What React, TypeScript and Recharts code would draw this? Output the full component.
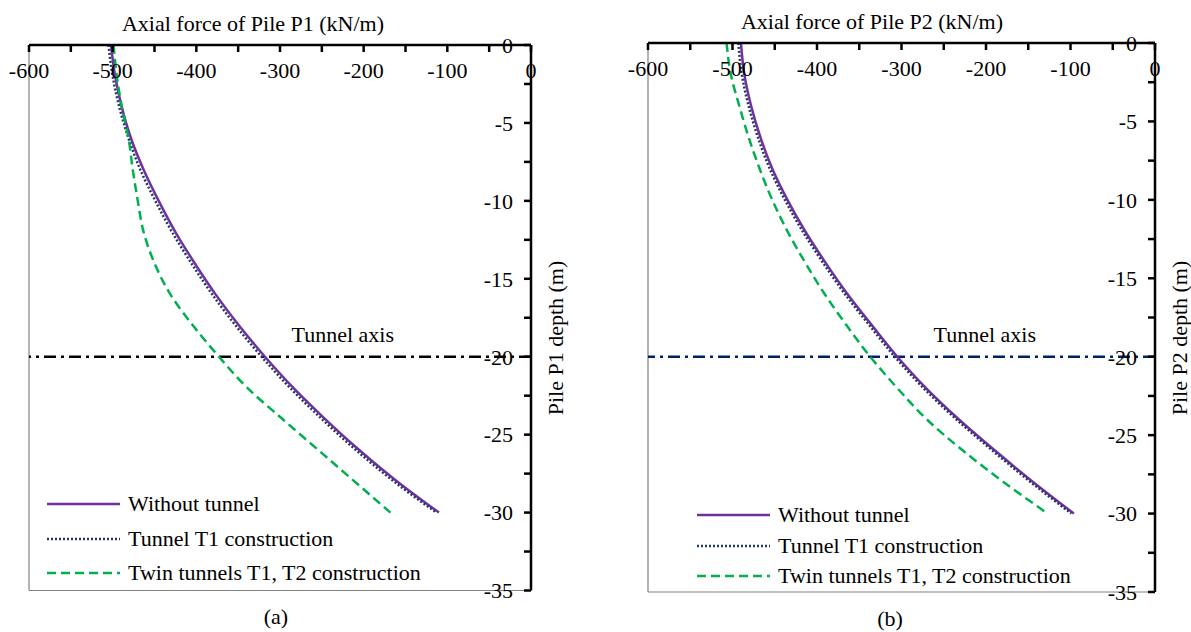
import { LineChart, Line, XAxis, YAxis, ReferenceLine } from 'recharts';

const FONT = '"Liberation Serif", "Times New Roman", serif';

// depth along the pile (m)
const depth = [0, -2, -4, -6, -8, -10, -12, -14, -16, -18, -20, -22, -24, -26, -28, -30];

// Pile P1 axial force (kN/m)
const p1WithoutTunnel = [-502, -497, -489, -478, -463, -445, -425, -402, -377, -349, -318, -284, -246, -205, -160, -110];
const p1TunnelT1 = [-505, -500, -492, -481, -467, -449, -429, -406, -381, -353, -322, -288, -250, -209, -164, -113];
const p1TwinTunnels = [-499, -495, -489, -481, -476, -470, -463, -450, -431, -404, -373, -339, -297, -254, -211, -168];

// Pile P2 axial force (kN/m)
const p2WithoutTunnel = [-490, -486, -478, -467, -453, -435, -414, -390, -364, -335, -305, -271, -232, -189, -144, -96];
const p2TunnelT1 = [-493, -489, -481, -470, -456, -438, -417, -393, -367, -338, -308, -274, -235, -192, -147, -99];
const p2TwinTunnels = [-507, -502, -492, -481, -468, -453, -435, -414, -391, -365, -337, -305, -270, -227, -179, -127];

const forceTicks = [-600, -550, -500, -450, -400, -350, -300, -250, -200, -150, -100, -50, 0];
const depthTicks = [0, -2.5, -5, -7.5, -10, -12.5, -15, -17.5, -20, -22.5, -25, -27.5, -30, -32.5, -35];

const seriesNames = ['Without tunnel', 'Tunnel T1 construction', 'Twin tunnels T1, T2 construction'];

const COLORS = {
  without: '#7030A0',
  t1: '#1F3864',
  twin: '#00B050',
};

const p1Data = depth.map((d, i) => ({
  depth: d,
  without: p1WithoutTunnel[i],
  t1: p1TunnelT1[i],
  twin: p1TwinTunnels[i],
}));

const p2Data = depth.map((d, i) => ({
  depth: d,
  without: p2WithoutTunnel[i],
  t1: p2TunnelT1[i],
  twin: p2TwinTunnels[i],
}));

const FS = 22;
const tickStyle = { fontSize: FS, fill: '#000', fontFamily: FONT };

interface PanelProps {
  data: typeof p1Data;
  width: number;
  margin: { top: number; right: number; bottom: number; left: number };
  axisColor: string;
  axisLabelFromRight: number;
}

function Panel({ data, width, margin, axisColor, axisLabelFromRight }: PanelProps) {
  return (
    <LineChart width={width} height={632} data={data} layout="vertical" margin={margin}>
      <XAxis
        type="number"
        dataKey="without"
        orientation="top"
        mirror
        height={1}
        domain={[-600, 0]}
        ticks={forceTicks}
        interval={0}
        tickFormatter={(v: number) => (v % 100 === 0 ? String(v) : '')}
        tick={tickStyle}
        tickSize={7}
        tickMargin={10}
        axisLine={{ stroke: '#000', strokeWidth: 2.5 }}
        tickLine={{ stroke: '#000', strokeWidth: 2.5 }}
        allowDataOverflow
      />
      <YAxis
        type="number"
        dataKey="depth"
        orientation="right"
        mirror
        width={1}
        reversed
        domain={[-35, 0]}
        ticks={depthTicks}
        interval={0}
        tickFormatter={(v: number) => (v % 5 === 0 ? String(v) : '')}
        tick={tickStyle}
        tickSize={7}
        tickMargin={11}
        axisLine={{ stroke: '#000', strokeWidth: 2.5 }}
        tickLine={{ stroke: '#000', strokeWidth: 2.5 }}
        allowDataOverflow
      />
      <ReferenceLine x={-600} stroke="#808080" strokeWidth={1.2} />
      <ReferenceLine y={-35} stroke="#808080" strokeWidth={1.2} />
      <ReferenceLine
        y={-20}
        stroke={axisColor}
        strokeWidth={2.5}
        strokeDasharray="12 5 3 5"
        label={(props: any) => {
          const vb = props.viewBox ?? { x: 0, y: 0, width: 0 };
          return (
            <text
              x={vb.x + vb.width - axisLabelFromRight}
              y={vb.y - 15}
              textAnchor="end"
              fontSize={FS}
              fontFamily={FONT}
              fill="#000"
            >
              Tunnel axis
            </text>
          );
        }}
      />
      <Line
        type="monotone"
        dataKey="without"
        name={seriesNames[0]}
        stroke={COLORS.without}
        strokeWidth={2.5}
        dot={false}
        isAnimationActive={false}
      />
      <Line
        type="monotone"
        dataKey="t1"
        name={seriesNames[1]}
        stroke={COLORS.t1}
        strokeWidth={2.5}
        strokeDasharray="2 2"
        dot={false}
        isAnimationActive={false}
      />
      <Line
        type="monotone"
        dataKey="twin"
        name={seriesNames[2]}
        stroke={COLORS.twin}
        strokeWidth={2.5}
        strokeDasharray="9 5"
        dot={false}
        isAnimationActive={false}
      />
    </LineChart>
  );
}

function LegendBlock({ x, rows }: { x: number; rows: number[] }) {
  const styles = [
    { stroke: COLORS.without, dash: undefined },
    { stroke: COLORS.t1, dash: '2 2' },
    { stroke: COLORS.twin, dash: '9 5' },
  ];
  return (
    <g>
      {seriesNames.map((name, i) => (
        <g key={name}>
          <line
            x1={x}
            x2={x + 73}
            y1={rows[i]}
            y2={rows[i]}
            stroke={styles[i].stroke}
            strokeWidth={2.5}
            strokeDasharray={styles[i].dash}
          />
          <text x={x + 81} y={rows[i] + 7} fontSize={FS} fontFamily={FONT} fill="#000">
            {name}
          </text>
        </g>
      ))}
    </g>
  );
}

export default function App() {
  const textProps = { fontSize: FS, fontFamily: FONT, fill: '#000' };
  return (
    <div style={{ position: 'absolute', left: 0, top: 0, width: 1191, height: 632, background: '#fff' }}>
      <div style={{ position: 'absolute', left: 0, top: 0 }}>
        <Panel
          data={p1Data}
          width={600}
          margin={{ top: 45, right: 69, bottom: 41.5, left: 29 }}
          axisColor="#000"
          axisLabelFromRight={137}
        />
      </div>
      <div style={{ position: 'absolute', left: 600, top: 0 }}>
        <Panel
          data={p2Data}
          width={591}
          margin={{ top: 43, right: 36, bottom: 40, left: 48 }}
          axisColor="#002060"
          axisLabelFromRight={119}
        />
      </div>
      <svg
        width={1191}
        height={632}
        style={{ position: 'absolute', left: 0, top: 0, pointerEvents: 'none' }}
      >
        <text x={253} y={31} textAnchor="middle" {...textProps}>
          Axial force of Pile P1 (kN/m)
        </text>
        <text x={872} y={29} textAnchor="middle" {...textProps}>
          Axial force of Pile P2 (kN/m)
        </text>
        <text
          x={555}
          y={338}
          textAnchor="middle"
          dominantBaseline="central"
          transform="rotate(-90 555 338)"
          {...textProps}
        >
          Pile P1 depth (m)
        </text>
        <text
          x={1179}
          y={338}
          textAnchor="middle"
          dominantBaseline="central"
          transform="rotate(-90 1179 338)"
          {...textProps}
        >
          Pile P2 depth (m)
        </text>
        <LegendBlock x={47} rows={[504, 539, 573]} />
        <LegendBlock x={697} rows={[515, 546, 576]} />
        <text x={276} y={624} textAnchor="middle" {...textProps}>
          (a)
        </text>
        <text x={890} y={626} textAnchor="middle" {...textProps}>
          (b)
        </text>
      </svg>
    </div>
  );
}
